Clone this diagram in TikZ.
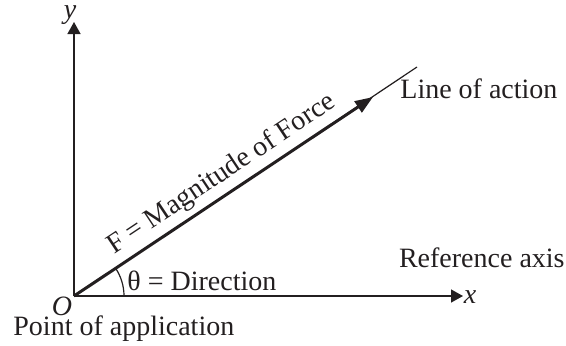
\documentclass[tikz,border=0pt]{standalone}
\usepackage{fontspec}
\setmainfont{Liberation Serif}
\usepackage{xcolor}
\definecolor{inkblack}{RGB}{35, 31, 32}
\usetikzlibrary{arrows.meta, positioning, calc}

\begin{document}
\begin{tikzpicture}[x=0.5pt, y=-0.5pt, >=Stealth,
    every node/.style={font=\fontsize{14}{16}\selectfont, text=inkblack},
    axisline/.style={line width=0.7pt, inkblack, -{Triangle[length=6pt, width=6.5pt]}},
    forcearrow/.style={line width=1.5pt, inkblack, -{Triangle[length=9pt, width=6.5pt]}},
    varlabel/.style={font=\fontsize{14}{16}\selectfont\itshape, inner sep=0pt}]
    \useasboundingbox (0,0) rectangle (566,345);

    % axes
    \coordinate (O) at (74, 296);
    \coordinate (ytip) at (74, 22);
    \coordinate (xtip) at (463, 296);
    \draw[axisline] (O) -- (ytip);
    \draw[axisline] (O) -- (xtip);
    \node[varlabel] (ylabel) at (70, 15) {y};
    \node[varlabel] (xlabel) at (470, 297) {x};
    \node[varlabel] (olabel) at (62, 306) {O};

    % line of action and force
    \coordinate (lineend) at (417, 67);
    \coordinate (ftip) at (373, 97);
    \draw[line width=0.6pt, inkblack] (O) -- (lineend);
    \draw[forcearrow] (O) -- (ftip)
        node[pos=0.53, sloped, above, inner sep=2.5pt] (flabel) {F = Magnitude of Force};

    % direction angle
    \draw[line width=0.6pt, inkblack] ($(O)+(50,0)$) arc[start angle=0, end angle=-33.7, radius=50];

    % labels
    \node[anchor=base west, inner sep=0pt] (dirlabel) at (127, 290) {θ = Direction};
    \node[anchor=base east, inner sep=0pt] (refaxis) at (565, 267) {Reference axis};
    \node[anchor=base west, inner sep=0pt] (loalabel) at (400, 98) {Line of action};
    \node[anchor=base west, inner sep=0pt] (poalabel) at (13, 335) {Point of application};
\end{tikzpicture}
\end{document}
